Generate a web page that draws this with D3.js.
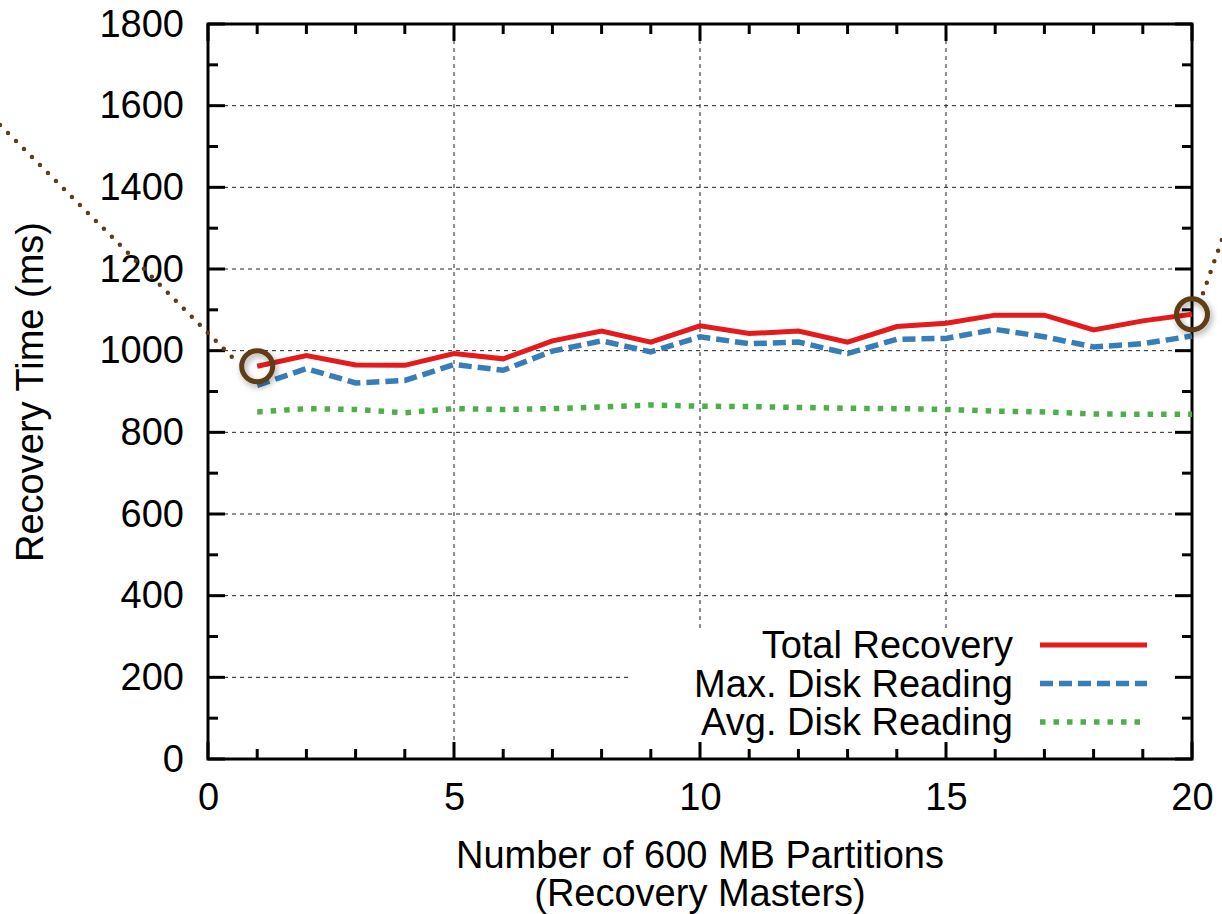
<!DOCTYPE html>
<html>
<head>
<meta charset="utf-8">
<script src="https://cdn.jsdelivr.net/npm/d3@7"></script>
<style>
body{margin:0;background:#fff;}
svg{display:block;font-family:"Liberation Sans",Arial,sans-serif;}
</style>
</head>
<body>
<div id="chart"></div>
<script>
// number of partitions (recovery masters)
var partitions = d3.range(1, 21);
var totalRecovery = [962, 988, 965, 964, 993, 980, 1024, 1048, 1021, 1061, 1042, 1048, 1021, 1059, 1067, 1087, 1087, 1051, 1073, 1089];
var maxDiskReading = [915, 956, 921, 927, 966, 952, 999, 1024, 997, 1034, 1017, 1021, 993, 1028, 1030, 1052, 1034, 1009, 1017, 1036];
var avgDiskReading = [850, 858, 856, 848, 858, 856, 858, 862, 867, 864, 863, 861, 859, 858, 856, 852, 850, 845, 844, 844];
var xTicks = [0, 5, 10, 15, 20];
var yTicks = [0, 200, 400, 600, 800, 1000, 1200, 1400, 1600, 1800];
var seriesNames = ["Total Recovery", "Max. Disk Reading", "Avg. Disk Reading"];

var W = 1222, H = 914;
var mLeft = 208, mRight = 1192, mTop = 24, mBottom = 759;

var svg = d3.select("#chart").append("svg")
	.attr("width", W).attr("height", H);

var defs = svg.append("defs");
var f = defs.append("filter").attr("id", "shadow")
	.attr("x", "-50%").attr("y", "-50%").attr("width", "200%").attr("height", "200%");
f.append("feDropShadow").attr("dx", 2).attr("dy", 3).attr("stdDeviation", 3)
	.attr("flood-color", "#000").attr("flood-opacity", 0.35);

var x = d3.scaleLinear().domain([0, 20]).range([mLeft, mRight]);
var y = d3.scaleLinear().domain([0, 1800]).range([mBottom, mTop]);

// grid (dashed)
var grid = svg.append("g").attr("stroke", "#222").attr("stroke-width", 1).attr("stroke-dasharray", "4,4");
grid.selectAll(".gy").data(yTicks.slice(1, -1)).enter().append("line")
	.attr("x1", mLeft).attr("x2", mRight)
	.attr("y1", function(d){ return y(d); }).attr("y2", function(d){ return y(d); });
grid.selectAll(".gx").data(xTicks.slice(1, -1)).enter().append("line")
	.attr("y1", mTop).attr("y2", mBottom)
	.attr("x1", function(d){ return x(d); }).attr("x2", function(d){ return x(d); });

// legend box hides grid
svg.append("rect").attr("x", 628).attr("y", 628)
	.attr("width", mRight - 628).attr("height", mBottom - 628).attr("fill", "#fff");

// axes
var axisFont = 38;
var yAxis = d3.axisLeft(y).tickValues(yTicks).tickFormat(d3.format("d")).tickSize(0).tickPadding(24);
var gy = svg.append("g").attr("transform", "translate(" + mLeft + ",0)").call(yAxis);
gy.select(".domain").remove();
gy.selectAll("text").attr("font-size", axisFont).attr("font-family", "Liberation Sans").attr("fill", "#000");

var xAxis = d3.axisBottom(x).tickValues(xTicks).tickSize(0).tickPadding(24);
var gx = svg.append("g").attr("transform", "translate(0," + mBottom + ")").call(xAxis);
gx.select(".domain").remove();
gx.selectAll("text").attr("font-size", axisFont).attr("font-family", "Liberation Sans").attr("fill", "#000");

// tick marks on all four sides
var ticks = svg.append("g").attr("stroke", "#000").attr("stroke-width", 3);
var yMinor = d3.range(0, 1801, 100);
ticks.selectAll(".tyl").data(yMinor).enter().append("line")
	.attr("x1", mLeft).attr("x2", function(d){ return mLeft + (d % 200 == 0 ? 17 : 10); })
	.attr("y1", function(d){ return y(d); }).attr("y2", function(d){ return y(d); });
ticks.selectAll(".tyr").data(yMinor).enter().append("line")
	.attr("x1", mRight).attr("x2", function(d){ return mRight - (d % 200 == 0 ? 17 : 10); })
	.attr("y1", function(d){ return y(d); }).attr("y2", function(d){ return y(d); });
var xMinor = d3.range(0, 21, 1);
ticks.selectAll(".txb").data(xMinor).enter().append("line")
	.attr("y1", mBottom).attr("y2", function(d){ return mBottom - (d % 5 == 0 ? 17 : 10); })
	.attr("x1", function(d){ return x(d); }).attr("x2", function(d){ return x(d); });
ticks.selectAll(".txt").data(xMinor).enter().append("line")
	.attr("y1", mTop).attr("y2", function(d){ return mTop + (d % 5 == 0 ? 17 : 10); })
	.attr("x1", function(d){ return x(d); }).attr("x2", function(d){ return x(d); });

// frame
svg.append("rect").attr("x", mLeft).attr("y", mTop)
	.attr("width", mRight - mLeft).attr("height", mBottom - mTop)
	.attr("fill", "none").attr("stroke", "#000").attr("stroke-width", 3);

// series
var line = d3.line().x(function(d){ return x(d[0]); }).y(function(d){ return y(d[1]); });
function pairs(vals){ return partitions.map(function(p, i){ return [p, vals[i]]; }); }

var styles = [
	{data: totalRecovery, color: "#e41a1c", dash: null, width: 5},
	{data: maxDiskReading, color: "#377eb8", dash: "13,6", width: 5.5},
	{data: avgDiskReading, color: "#4daf4a", dash: "5.5,8", width: 5.5}
];
// draw back to front
[2, 1, 0].forEach(function(i){
	var s = styles[i];
	svg.append("path").datum(pairs(s.data))
		.attr("d", line).attr("fill", "none")
		.attr("stroke", s.color).attr("stroke-width", s.width)
		.attr("stroke-dasharray", s.dash);
});

// legend
var leg = svg.append("g");
seriesNames.forEach(function(name, i){
	var ly = 645 + i * 38.5;
	leg.append("text").attr("x", 1013).attr("y", ly).attr("dy", "0.35em")
		.attr("text-anchor", "end").attr("font-size", axisFont).attr("fill", "#000").text(name);
	leg.append("line").attr("x1", 1040).attr("x2", 1147).attr("y1", ly).attr("y2", ly)
		.attr("stroke", styles[i].color).attr("stroke-width", styles[i].width)
		.attr("stroke-dasharray", styles[i].dash);
});

// axis titles
svg.append("text").attr("x", 700).attr("y", 855).attr("dy", "0.35em")
	.attr("text-anchor", "middle").attr("font-size", axisFont).text("Number of 600 MB Partitions");
svg.append("text").attr("x", 700).attr("y", 893).attr("dy", "0.35em")
	.attr("text-anchor", "middle").attr("font-size", axisFont).text("(Recovery Masters)");
svg.append("text").attr("transform", "translate(30,392) rotate(-90)").attr("dy", "0.35em")
	.attr("text-anchor", "middle").attr("font-size", axisFont).text("Recovery Time (ms)");

// callout connectors and circles
var brown = "#5e3c14";
var first = [partitions[0], totalRecovery[0]];
var last = [partitions[19], totalRecovery[19]];
svg.append("line").attr("x1", 0).attr("y1", 125).attr("x2", x(first[0]) - 24).attr("y2", y(first[1]) - 8)
	.attr("stroke", brown).attr("stroke-width", 4.5).attr("stroke-linecap", "round").attr("stroke-dasharray", "0,11.3");
svg.append("line").attr("x1", x(last[0]) + 11).attr("y1", y(last[1]) - 21).attr("x2", 1224).attr("y2", 234)
	.attr("stroke", brown).attr("stroke-width", 4.5).attr("stroke-linecap", "round").attr("stroke-dasharray", "0,11.3");
[first, last].forEach(function(p){
	svg.append("circle").attr("cx", x(p[0])).attr("cy", y(p[1]))
		.attr("r", 15.5).attr("fill", "none").attr("stroke", brown).attr("stroke-width", 5)
		.attr("filter", "url(#shadow)");
});
</script>
</body>
</html>
